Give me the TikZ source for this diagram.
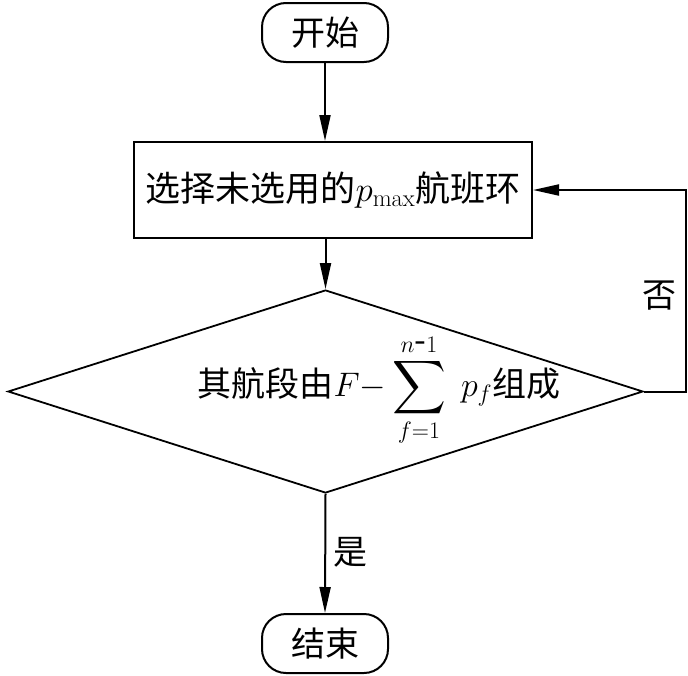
\RequirePackage{fix-cm}
\documentclass[tikz,border=0pt]{standalone}
\usepackage{amsmath}
\usepackage{exscale}
\usepackage{fontspec}
\newfontfamily\cjk{Noto Sans CJK SC}
\usetikzlibrary{shapes.geometric,arrows.meta}
\newcommand{\bigsumsym}{\mathop{\vcenter{\hbox{\scalebox{1.5}{$\displaystyle\sum$}}}}\limits}
\begin{document}
\begin{tikzpicture}[x=1pt,y=-1pt,
  every node/.style={font=\cjk\fontsize{34}{40}\selectfont},
  term/.style={draw, line width=2pt, rounded corners=24pt, minimum width=126pt, minimum height=59pt, inner sep=0pt},
  procbox/.style={draw, line width=2pt, minimum width=398pt, minimum height=96pt, inner sep=0pt, font=\cjk\fontsize{35}{40}\selectfont},
  decide/.style={draw, line width=1.8pt, diamond, minimum width=635pt, minimum height=203pt, inner sep=0pt},
  flow/.style={line width=2pt, -{Triangle[length=26pt,width=11pt]}},
  lab/.style={inner sep=0pt}
]
\useasboundingbox (0,0) rectangle (688,675);
\node[term] (start) at (325,32.5) {开始};
\node[procbox] (sel) at (333,190) {选择未选用的$p_{\max}$航班环};
\node[decide] (dia) at (325.5,391.5) {};
\node[lab] (diatext) at (379,390) {其航段由$F{-}\bigsumsym_{f=1}^{n\mbox{-}1}\;p_f$组成};
\node[term] (end) at (325,643.5) {结束};
\draw[flow] (start.south) -- (start.south |- sel.north);
\draw[flow] (sel.south -| dia.north) -- (dia.north);
\draw[flow] (dia.south) -- (end.north);
\draw[flow] (dia.east) -- ++(42,0) |- (sel.east);
\node[lab] (no) at (659,296) {否};
\node[lab] (yes) at (350,552) {是};
\end{tikzpicture}
\end{document}
